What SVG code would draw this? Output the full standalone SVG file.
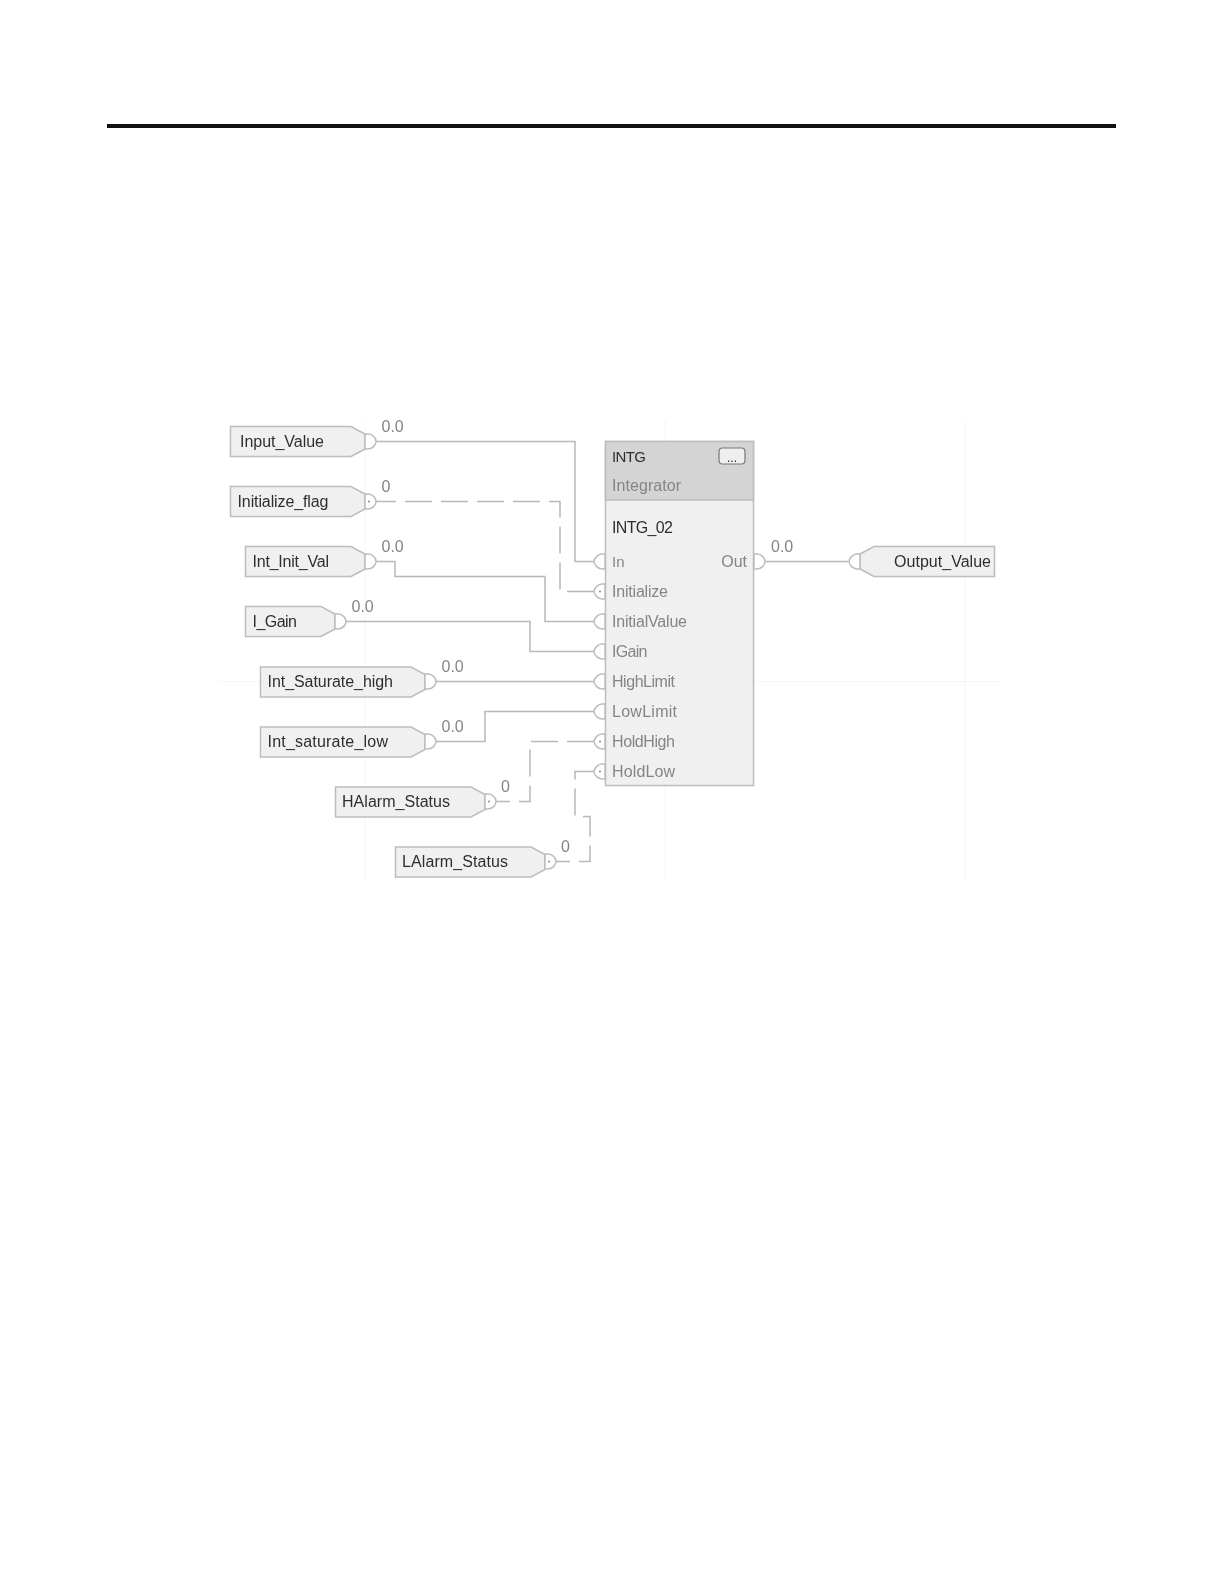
<svg xmlns="http://www.w3.org/2000/svg" width="1224" height="1584" viewBox="0 0 1224 1584">
<style>
text{font-family:"Liberation Sans",Arial,sans-serif;font-size:16px}
.n{fill:#2f2f2f}
.g{fill:#858585}
.tag{fill:#f0f0f0;stroke:#bdbdbd;stroke-width:1.5}
.pin{fill:#fff;stroke:#bdbdbd;stroke-width:1.5}
.w{fill:none;stroke:#b8b8b8;stroke-width:1.5}
.d{stroke-dasharray:27 9}
.dot{fill:#888}
.grid{stroke:#f6f6f6;stroke-width:1;fill:none}
</style>
<defs>
<filter id="soft" x="0" y="0" width="1" height="1"><feGaussianBlur stdDeviation="0.35"/></filter>
<path id="po" d="M0-7.500H3C8-7.500 11-3 11 0C11 3 8 7.500 3 7.500H0Z" class="pin"/>
<path id="pi" d="M0-7.500H-3C-7-7.500-11-3-11 0C-11 3-7 7.500-3 7.500H0Z" class="pin"/>
</defs>
<rect width="1224" height="1584" fill="#fff"/>
<rect id="rule" x="107" y="124" width="1009" height="4" fill="#111"/>
<g id="diagram" filter="url(#soft)">
<g id="grid" class="grid">
<path d="M365 420V880M665 420V880M965 420V880M220 681.500H1000"/>
</g>
<g id="connectors">
<path class="w" d="M376 441.500H575V561.500H595"/>
<path class="w d" stroke-dashoffset="7" d="M376 501.500H560V591.500H595"/>
<path class="w" d="M376 561.500H395V576.500H545V621.500H595"/>
<path class="w" d="M346 621.500H530V651.500H595"/>
<path class="w" d="M436 681.500H595"/>
<path class="w" d="M436 741.500H485V711.500H595"/>
<path class="w d" stroke-dashoffset="13" d="M496 801.500H530V741.500H595"/>
<path class="w d" stroke-dashoffset="13" d="M556 861.500H590V816.500H575V771.500H595"/>
<path class="w" d="M765 561.500H848"/>
</g>
<g id="Input_Value">
<path class="tag" d="M230.500 426.500H351L365 434V449L351 456.500H230.500Z"/><use href="#po" x="365" y="441.500"/>
<text class="n" x="240" y="447" textLength="84">Input_Value</text><text class="g" x="381.500" y="432">0.0</text>
</g>
<g id="Initialize_flag">
<path class="tag" d="M230.500 486.500H351L365 494V509L351 516.500H230.500Z"/><use href="#po" x="365" y="501.500"/><circle class="dot" cx="369" cy="501.500" r="1"/>
<text class="n" x="237.500" y="507" textLength="91">Initialize_flag</text><text class="g" x="381.500" y="492">0</text>
</g>
<g id="Int_Init_Val">
<path class="tag" d="M245.500 546.500H351L365 554V569L351 576.500H245.500Z"/><use href="#po" x="365" y="561.500"/>
<text class="n" x="252.500" y="567" textLength="76.500">Int_Init_Val</text><text class="g" x="381.500" y="552">0.0</text>
</g>
<g id="I_Gain">
<path class="tag" d="M245.500 606.500H321L335 614V629L321 636.500H245.500Z"/><use href="#po" x="335" y="621.500"/>
<text class="n" x="252.500" y="627" textLength="44.500">I_Gain</text><text class="g" x="351.500" y="612">0.0</text>
</g>
<g id="Int_Saturate_high">
<path class="tag" d="M260.500 667H411L425 674.500V689.500L411 697H260.500Z"/><use href="#po" x="425" y="681.500"/>
<text class="n" x="267.500" y="687" textLength="125.500">Int_Saturate_high</text><text class="g" x="441.500" y="672">0.0</text>
</g>
<g id="Int_saturate_low">
<path class="tag" d="M260.500 727H411L425 734.500V749.500L411 757H260.500Z"/><use href="#po" x="425" y="741.500"/>
<text class="n" x="267.500" y="747" textLength="120.500">Int_saturate_low</text><text class="g" x="441.500" y="732">0.0</text>
</g>
<g id="HAlarm_Status">
<path class="tag" d="M335.500 787H471L485 794.500V809.500L471 817H335.500Z"/><use href="#po" x="485" y="801.500"/><circle class="dot" cx="489" cy="801.500" r="1"/>
<text class="n" x="342" y="807" textLength="108">HAlarm_Status</text><text class="g" x="501" y="792">0</text>
</g>
<g id="LAlarm_Status">
<path class="tag" d="M395.500 847H531L545 854.500V869.500L531 877H395.500Z"/><use href="#po" x="545" y="861.500"/><circle class="dot" cx="549" cy="861.500" r="1"/>
<text class="n" x="402" y="867" textLength="106">LAlarm_Status</text><text class="g" x="561" y="852">0</text>
</g>
<g id="INTG_02">
<rect x="605.500" y="441.500" width="148" height="344" fill="#f0f0f0" stroke="#bdbdbd" stroke-width="1.500"/>
<rect x="605.500" y="441.500" width="148" height="58.500" fill="#d4d4d4" stroke="#bdbdbd" stroke-width="1.500"/>
<rect x="719" y="448" width="26" height="16" rx="3.500" fill="#eee" stroke="#777" stroke-width="1.200"/>
<text x="732" y="462" text-anchor="middle" class="n" style="font-size:12px">...</text>
<text class="n" x="612" y="462" textLength="34" style="font-size:15px">INTG</text>
<text class="g" x="612" y="490.500" textLength="69">Integrator</text>
<text class="n" x="612" y="532.500" textLength="61">INTG_02</text>
<use href="#pi" x="605" y="561.500"/><text class="g" x="612" y="567" style="font-size:15px">In</text>
<use href="#pi" x="605" y="591.500"/><circle class="dot" cx="600" cy="591.500" r="1"/><text class="g" x="612" y="597" textLength="56">Initialize</text>
<use href="#pi" x="605" y="621.500"/><text class="g" x="612" y="627" textLength="75">InitialValue</text>
<use href="#pi" x="605" y="651.500"/><text class="g" x="612" y="657" textLength="35.500">IGain</text>
<use href="#pi" x="605" y="681.500"/><text class="g" x="612" y="687" textLength="63">HighLimit</text>
<use href="#pi" x="605" y="711.500"/><text class="g" x="612" y="717" textLength="65">LowLimit</text>
<use href="#pi" x="605" y="741.500"/><circle class="dot" cx="600" cy="741.500" r="1"/><text class="g" x="612" y="747" textLength="63">HoldHigh</text>
<use href="#pi" x="605" y="771.500"/><circle class="dot" cx="600" cy="771.500" r="1"/><text class="g" x="612" y="777" textLength="63">HoldLow</text>
<text class="g" x="747" y="567" text-anchor="end">Out</text>
<use href="#po" x="754" y="561.500"/>
<text class="g" x="771" y="552">0.0</text>
</g>
<g id="Output_Value">
<path class="tag" d="M994.500 546.500H874L860 554V569L874 576.500H994.500Z"/><use href="#pi" x="860" y="561.500"/>
<text class="n" x="894" y="567" textLength="97">Output_Value</text>
</g>
</g>
</svg>
